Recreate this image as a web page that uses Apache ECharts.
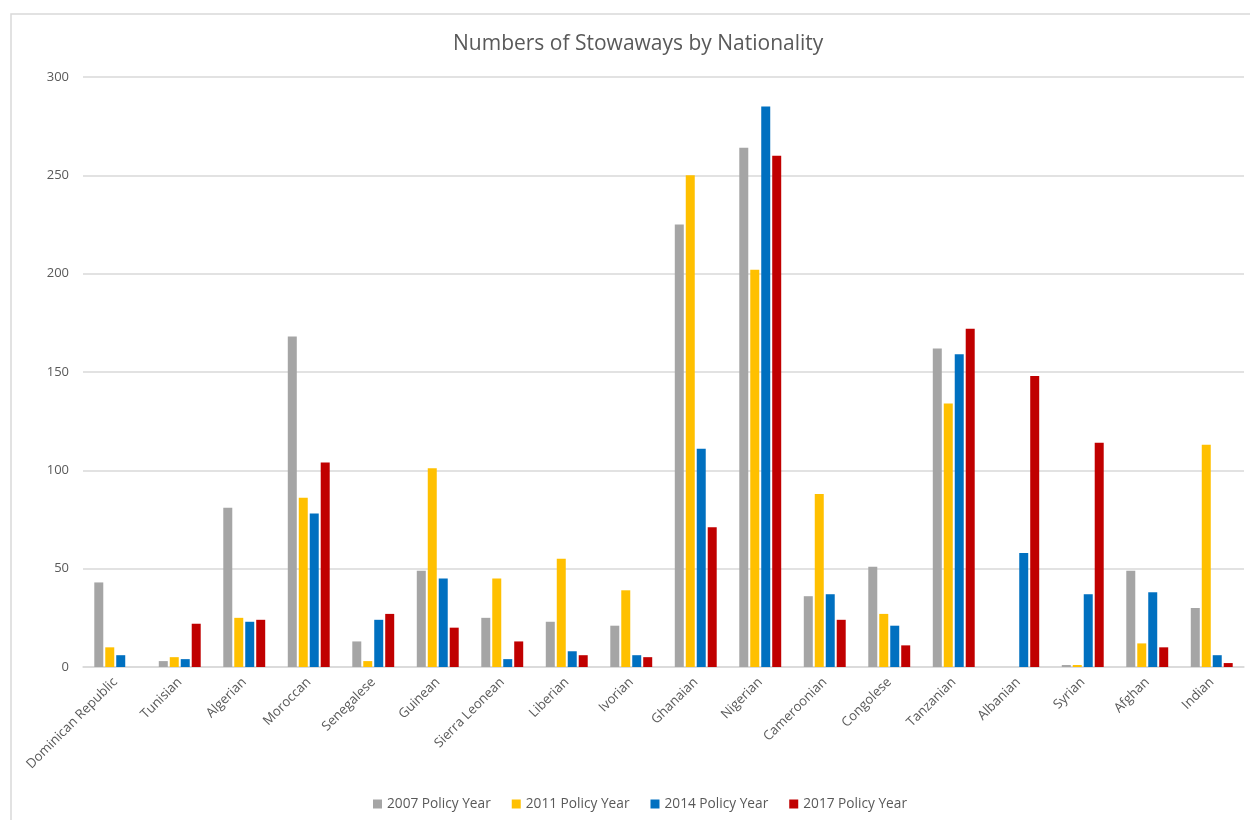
<!DOCTYPE html>
<html>
<head>
<meta charset="utf-8">
<script src="https://cdn.jsdelivr.net/npm/echarts@6/dist/echarts.min.js"></script>
<style>
  html, body { margin: 0; padding: 0; background: #fff; }
  #chart { width: 1250px; height: 820px; }
</style>
</head>
<body>
<div id="chart"></div>
<script>
const categories = ['Dominican Republic', 'Tunisian', 'Algerian', 'Moroccan', 'Senegalese', 'Guinean',
  'Sierra Leonean', 'Liberian', 'Ivorian', 'Ghanaian', 'Nigerian', 'Cameroonian', 'Congolese',
  'Tanzanian', 'Albanian', 'Syrian', 'Afghan', 'Indian'];

const year2007 = [43, 3, 81, 168, 13, 49, 25, 23, 21, 225, 264, 36, 51, 162, 0, 1, 49, 30];
const year2011 = [10, 5, 25, 86, 3, 101, 45, 55, 39, 250, 202, 88, 27, 134, 0, 1, 12, 113];
const year2014 = [6, 4, 23, 78, 24, 45, 4, 8, 6, 111, 285, 37, 21, 159, 58, 37, 38, 6];
const year2017 = [0, 22, 24, 104, 27, 20, 13, 6, 5, 71, 260, 24, 11, 172, 148, 114, 10, 2];

const seriesNames = ['2007 Policy Year', '2011 Policy Year', '2014 Policy Year', '2017 Policy Year'];
const seriesColors = ['#a5a5a5', '#ffc000', '#0070c0', '#c00000'];
const seriesData = [year2007, year2011, year2014, year2017];

const yTicks = { min: 0, max: 300, interval: 50 };

const font = '"Open Sans", "Noto Sans", sans-serif';
const chart = echarts.init(document.getElementById('chart'));

chart.setOption({
  backgroundColor: '#fff',
  animation: false,
  graphic: [{
    type: 'rect',
    shape: { x: 11, y: 14, width: 1260, height: 830 },
    style: { fill: 'none', stroke: '#d9d9d9', lineWidth: 1.5 },
    silent: true
  }],
  title: {
    text: 'Numbers of Stowaways by Nationality',
    left: 448,
    top: 29,
    textStyle: { fontFamily: font, fontSize: 21, fontWeight: 'normal', color: '#595959' }
  },
  legend: {
    bottom: 4,
    left: 368,
    itemWidth: 9,
    itemHeight: 9,
    itemGap: 21,
    icon: 'rect',
    textStyle: { fontFamily: font, fontSize: 13.7, color: '#595959' },
    data: seriesNames
  },
  grid: { left: 83, right: 6, top: 77, bottom: 153, containLabel: false },
  xAxis: {
    type: 'category',
    data: categories,
    axisLine: { lineStyle: { color: '#d9d9d9', width: 1.5 } },
    axisTick: { show: false },
    axisLabel: {
      rotate: 45,
      interval: 0,
      margin: 13,
      fontFamily: font,
      fontSize: 13.2,
      color: '#595959'
    }
  },
  yAxis: {
    type: 'value',
    min: yTicks.min,
    max: yTicks.max,
    interval: yTicks.interval,
    axisLine: { show: false },
    axisTick: { show: false },
    splitLine: { lineStyle: { color: '#d9d9d9', width: 1.5 } },
    axisLabel: { fontFamily: font, fontSize: 13, color: '#595959', margin: 14 }
  },
  series: seriesData.map((d, i) => ({
    name: seriesNames[i],
    type: 'bar',
    data: d,
    barGap: '22%',
    barCategoryGap: '35%',
    itemStyle: { color: seriesColors[i] }
  }))
});
</script>
</body>
</html>
